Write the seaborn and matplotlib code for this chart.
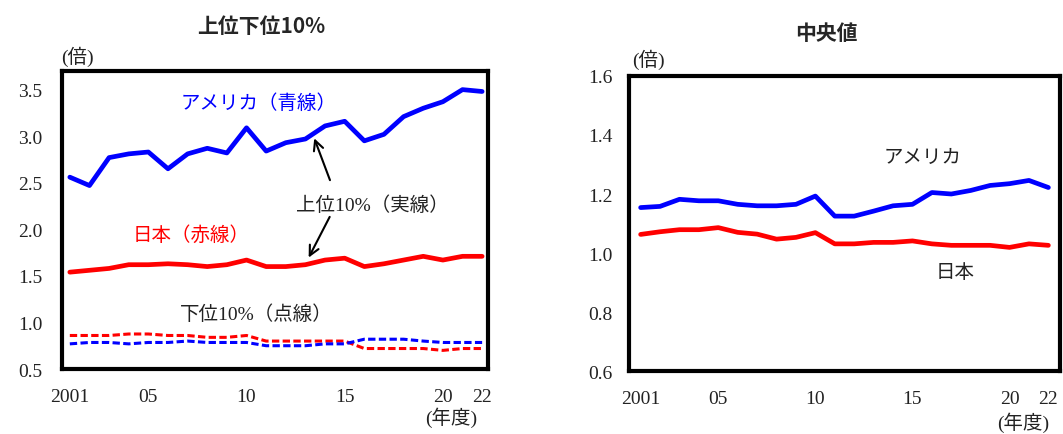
import numpy as np
import pandas as pd
import matplotlib
matplotlib.use('Agg')
import matplotlib.pyplot as plt
import seaborn as sns

# ---- data ----
years = list(range(2001, 2023))

us_top10 = [2.56, 2.47, 2.77, 2.81, 2.83, 2.65, 2.81, 2.87, 2.82, 3.09, 2.84,
            2.93, 2.97, 3.11, 3.16, 2.95, 3.02, 3.21, 3.30, 3.37, 3.50, 3.48]
jp_top10 = [1.54, 1.56, 1.58, 1.62, 1.62, 1.63, 1.62, 1.60, 1.62, 1.67, 1.60,
            1.60, 1.62, 1.67, 1.69, 1.60, 1.63, 1.67, 1.71, 1.67, 1.71, 1.71]
us_bot10 = [0.77, 0.785, 0.785, 0.77, 0.785, 0.785, 0.80, 0.785, 0.785, 0.785, 0.75,
            0.75, 0.75, 0.77, 0.77, 0.82, 0.82, 0.82, 0.80, 0.785, 0.785, 0.785]
jp_bot10 = [0.86, 0.86, 0.86, 0.876, 0.876, 0.86, 0.86, 0.84, 0.84, 0.86, 0.80,
            0.80, 0.80, 0.80, 0.80, 0.72, 0.72, 0.72, 0.72, 0.70, 0.72, 0.72]

us_median = [1.154, 1.158, 1.182, 1.177, 1.177, 1.165, 1.160, 1.160, 1.165, 1.193, 1.125,
             1.125, 1.142, 1.160, 1.165, 1.205, 1.200, 1.212, 1.229, 1.235, 1.246, 1.222]
jp_median = [1.063, 1.072, 1.079, 1.079, 1.086, 1.070, 1.064, 1.047, 1.053, 1.069, 1.031,
             1.031, 1.036, 1.036, 1.041, 1.031, 1.026, 1.026, 1.026, 1.019, 1.031, 1.026]

xtick_pos = [2001, 2005, 2010, 2015, 2020, 2022]
xtick_lab = ['2001', '05', '10', '15', '20', '22']
left_yticks = [0.5, 1.0, 1.5, 2.0, 2.5, 3.0, 3.5]
right_yticks = [0.6, 0.8, 1.0, 1.2, 1.4, 1.6]

BLUE = '#0000FF'
RED = '#FF0000'
TXT = '#222222'

sns.set_style('white')
plt.rcParams['font.family'] = ['Liberation Serif', 'Noto Sans CJK JP']
JP = ['Liberation Serif', 'Noto Sans CJK JP']

fig = plt.figure(figsize=(10.63, 4.35), dpi=100)
ax1 = fig.add_axes([0.0583, 0.1494, 0.4008, 0.6851])
ax2 = fig.add_axes([0.5917, 0.1448, 0.4055, 0.6782])

# ---- left: top / bottom 10% ----
sns.lineplot(x=years, y=us_top10, ax=ax1, color=BLUE, lw=3.4)
sns.lineplot(x=years, y=jp_top10, ax=ax1, color=RED, lw=3.4)
sns.lineplot(x=years, y=jp_bot10, ax=ax1, color=RED, lw=2.2, dashes=False)
sns.lineplot(x=years, y=us_bot10, ax=ax1, color=BLUE, lw=2.2, dashes=False)
for l in ax1.lines[2:]:
    l.set_dashes((2.4, 1.1))

ax1.set_xlim(2000.6, 2022.3)
ax1.set_ylim(0.5, 3.7)
ax1.set_yticks(left_yticks)
ax1.set_yticklabels([f'{v:.1f}' for v in left_yticks])

ax1.text(2010.6, 3.36, 'アメリカ（青線）', color=BLUE, fontsize=14,
         ha='center', va='center', family=JP)
ax1.text(2007.2, 1.95, '日本（赤線）', color=RED, fontsize=14,
         ha='center', va='center', family=JP)
ax1.text(2016.4, 2.27, '上位10%（実線）', color=TXT, fontsize=14,
         ha='center', va='center', family=JP)
ax1.text(2010.5, 1.09, '下位10%（点線）', color=TXT, fontsize=14,
         ha='center', va='center', family=JP)
arrow = dict(arrowstyle='->,head_length=0.7,head_width=0.35', color='black', lw=1.5)
ax1.annotate('', xy=(2013.4, 3.005), xytext=(2014.3, 2.50), arrowprops=arrow)
ax1.annotate('', xy=(2013.1, 1.67), xytext=(2014.3, 2.16), arrowprops=arrow)

# ---- right: median ----
sns.lineplot(x=years, y=us_median, ax=ax2, color=BLUE, lw=3.4)
sns.lineplot(x=years, y=jp_median, ax=ax2, color=RED, lw=3.4)
ax2.set_xlim(2000.4, 2022.6)
ax2.set_ylim(0.6, 1.6)
ax2.set_yticks(right_yticks)
ax2.set_yticklabels([f'{v:.1f}' for v in right_yticks])
ax2.text(2015.5, 1.325, 'アメリカ', color=TXT, fontsize=14,
         ha='center', va='center', family=JP)
ax2.text(2017.2, 0.935, '日本', color=TXT, fontsize=14,
         ha='center', va='center', family=JP)

for ax, ypad in ((ax1, 14), (ax2, 12)):
    ax.set_xticks(xtick_pos)
    ax.set_xticklabels(xtick_lab)
    ax.tick_params(axis='x', length=0, pad=14, labelsize=14, colors=TXT)
    ax.tick_params(axis='y', direction='in', length=5, width=1.5,
                   pad=ypad, labelsize=14, colors=TXT)
    for s in ax.spines.values():
        s.set_visible(True)
        s.set_color('black')
        s.set_linewidth(3)
    ax.set_xlabel('')
    ax.set_ylabel('')

# titles and unit labels
fig.text(0.246, 0.938, '上位下位10%', fontsize=15, fontweight='bold',
         ha='center', va='center', family='Noto Sans CJK JP')
fig.text(0.777, 0.922, '中央値', fontsize=15, fontweight='bold',
         ha='center', va='center', family='Noto Sans CJK JP')
fig.text(77 / 1063, 1 - 57 / 435, '(倍)', fontsize=14, color=TXT,
         ha='center', va='center', family=JP)
fig.text(648 / 1063, 1 - 60 / 435, '(倍)', fontsize=14, color=TXT,
         ha='center', va='center', family=JP)
fig.text(451 / 1063, 1 - 418 / 435, '(年度)', fontsize=14, color=TXT,
         ha='center', va='center', family=JP)
fig.text(1023 / 1063, 1 - 423 / 435, '(年度)', fontsize=14, color=TXT,
         ha='center', va='center', family=JP)

plt.savefig('out.png', dpi=100)
